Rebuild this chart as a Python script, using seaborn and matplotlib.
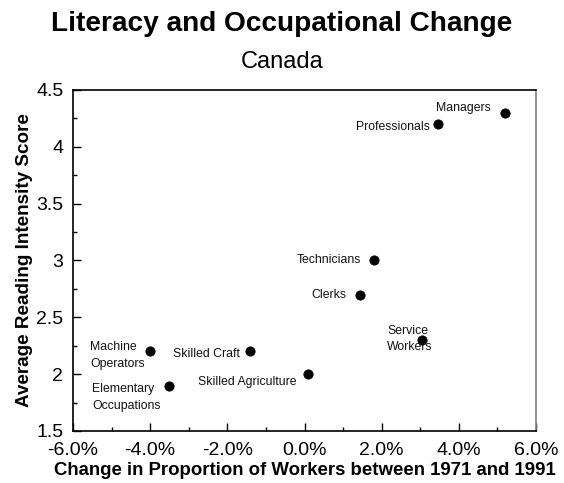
# Literacy and occupational change scatter (Canada)
import matplotlib
matplotlib.use('Agg')
import matplotlib.pyplot as plt
import seaborn as sns
import pandas as pd
from matplotlib.ticker import MultipleLocator, FuncFormatter

occupations = ['Managers', 'Professionals', 'Technicians', 'Clerks', 'Service\nWorkers',
               'Skilled Agriculture', 'Skilled Craft', 'Machine\nOperators', 'Elementary\nOccupations']
change_pct = [5.2, 3.45, 1.8, 1.43, 3.05, 0.1, -1.4, -4.0, -3.5]
reading_score = [4.3, 4.2, 3.0, 2.7, 2.3, 2.0, 2.2, 2.2, 1.9]

df = pd.DataFrame({'Occupation': occupations, 'Change': change_pct, 'Score': reading_score})

sns.set_style('white')
plt.rcParams['font.family'] = ['Liberation Sans', 'DejaVu Sans']
plt.rcParams['text.color'] = 'black'
plt.rcParams['axes.labelcolor'] = 'black'
plt.rcParams['xtick.color'] = 'black'
plt.rcParams['ytick.color'] = 'black'

fig = plt.figure(figsize=(5.64, 4.83), dpi=100)
ax = fig.add_axes([0.1294, 0.1077, 0.8210, 0.7060])

sns.scatterplot(x='Change', y='Score', data=df, ax=ax, color='black', s=45, edgecolor='black', zorder=3)

# label offsets in pixels (dx, dy, ha)
offsets = {
    'Managers': (-14, 5, 'right'),
    'Professionals': (-8, -3, 'right'),
    'Technicians': (-13, 0, 'right'),
    'Clerks': (-13, 0, 'right'),
    'Service\nWorkers': (-35, 1, 'left'),
    'Skilled Agriculture': (-12, -8, 'right'),
    'Skilled Craft': (-11, -3, 'right'),
    'Machine\nOperators': (-60, -4, 'left'),
    'Elementary\nOccupations': (-77, -12, 'left'),
}
for _, row in df.iterrows():
    dx, dy, ha = offsets[row['Occupation']]
    ax.annotate(row['Occupation'], (row['Change'], row['Score']), xytext=(dx, dy),
                textcoords='offset pixels', ha=ha, va='center', fontsize=8.8,
                linespacing=1.5, color='#111111')

ax.set_xlim(-6, 6)
ax.set_ylim(1.5, 4.5)
ax.xaxis.set_major_locator(MultipleLocator(2))
ax.xaxis.set_minor_locator(MultipleLocator(1))
ax.yaxis.set_major_locator(MultipleLocator(0.5))
ax.yaxis.set_minor_locator(MultipleLocator(0.25))
ax.xaxis.set_major_formatter(FuncFormatter(lambda v, p: f'{v:.1f}%'))
ax.yaxis.set_major_formatter(FuncFormatter(lambda v, p: f'{v:g}'))
ax.tick_params(axis='both', which='major', direction='in', length=6, width=1, labelsize=14)
ax.tick_params(axis='both', which='minor', direction='in', length=3, width=1)
ax.tick_params(axis='x', which='both', bottom=True, pad=8)
ax.tick_params(axis='y', which='both', left=True, pad=7)

for side in ['left', 'bottom', 'top']:
    ax.spines[side].set_color('black')
    ax.spines[side].set_linewidth(1.2)
ax.spines['right'].set_color('#808080')
ax.spines['right'].set_linewidth(1.2)

ax.set_xlabel('Change in Proportion of Workers between 1971 and 1991', fontsize=13.4, fontweight='bold', labelpad=2)
ax.set_ylabel('Average Reading Intensity Score', fontsize=13.6, fontweight='bold', labelpad=2)

fig.text(0.5, 0.936, 'Literacy and Occupational Change', ha='center', va='baseline', fontsize=20.2, fontweight='bold')
fig.text(0.5, 0.859, 'Canada', ha='center', va='baseline', fontsize=17)

plt.savefig('out.png', dpi=100)
